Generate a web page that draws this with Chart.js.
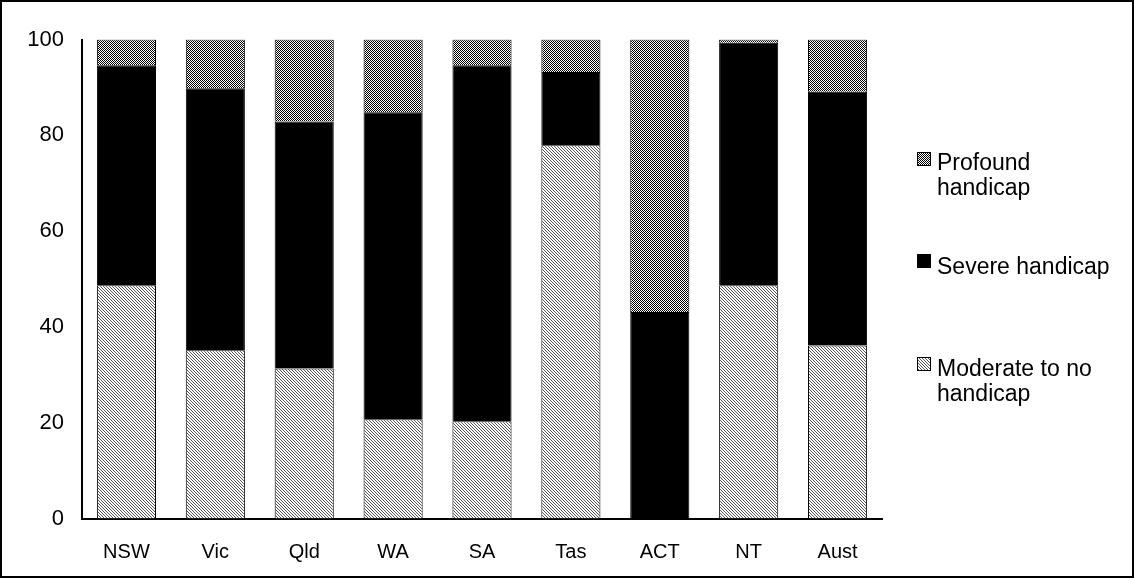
<!DOCTYPE html>
<html>
<head>
<meta charset="utf-8">
<title>Handicap level by state</title>
<script src="https://cdn.jsdelivr.net/npm/chart.js@4.4.1/dist/chart.umd.min.js"></script>
<style>
  html, body { margin: 0; padding: 0; background: #fff; }
  #wrap { width: 1134px; height: 578px; position: relative; }
</style>
</head>
<body>
<div id="wrap"><canvas id="chart" width="1134" height="578"></canvas></div>
<script>
// Categories and stacked percentages (each column sums to 100)
const categories = ['NSW', 'Vic', 'Qld', 'WA', 'SA', 'Tas', 'ACT', 'NT', 'Aust'];
const moderate = [48.7, 35.1, 31.3, 20.7, 20.3, 77.9, 0, 48.7, 36.1];
const severe   = [45.9, 54.7, 51.6, 64.1, 74.3, 15.3, 43.1, 50.6, 53.0];
const profound = [5.4, 10.2, 17.1, 15.2, 5.4, 6.8, 56.9, 0.7, 10.9];
const yTicks = [0, 20, 40, 60, 80, 100];

const legendLines = {
  profound: ['Profound', 'handicap'],
  severe: ['Severe handicap'],
  moderate: ['Moderate to no', 'handicap']
};

// Fill patterns: fine checker for profound, thin diagonals for moderate
function makePattern(size, drawFn) {
  const c = document.createElement('canvas');
  c.width = size; c.height = size;
  const g = c.getContext('2d');
  g.fillStyle = '#fff';
  g.fillRect(0, 0, size, size);
  drawFn(g);
  return g.createPattern(c, 'repeat');
}
const ctxMain = document.getElementById('chart').getContext('2d');
const checker = makePattern(2, g => {
  g.fillStyle = '#000';
  g.fillRect(0, 0, 1, 1);
  g.fillRect(1, 1, 1, 1);
});
const diagonal = makePattern(3, g => {
  g.fillStyle = '#555';
  for (let i = 0; i < 3; i++) g.fillRect(i, i, 1, 1);
});

const fontFamily = 'Arial, "Liberation Sans", sans-serif';

// White page, outer frame and the wrapped legend on the right
const framePlugin = {
  id: 'frame',
  beforeDraw(chart) {
    const c = chart.ctx;
    c.save();
    c.fillStyle = '#fff';
    c.fillRect(0, 0, chart.width, chart.height);
    c.restore();
  },
  afterDraw(chart) {
    const c = chart.ctx;
    c.save();
    c.strokeStyle = '#000';
    c.lineWidth = 2;
    c.strokeRect(1, 1, chart.width - 2, chart.height - 2);

    const ds = chart.data.datasets;
    const entries = [
      { fill: ds[2].backgroundColor, lines: legendLines.profound, box: 152, base: 170 },
      { fill: ds[1].backgroundColor, lines: legendLines.severe, box: 254, base: 274 },
      { fill: ds[0].backgroundColor, lines: legendLines.moderate, box: 357, base: 376 }
    ];
    c.font = '23px ' + fontFamily;
    c.textBaseline = 'alphabetic';
    c.textAlign = 'left';
    entries.forEach(e => {
      c.fillStyle = e.fill;
      c.fillRect(917, e.box, 14, 14);
      c.lineWidth = 1;
      c.strokeStyle = '#000';
      c.strokeRect(917.5, e.box + 0.5, 13, 13);
      c.fillStyle = '#000';
      e.lines.forEach((t, i) => c.fillText(t, 937, e.base + i * 24.5));
    });
    c.restore();
  }
};

new Chart(ctxMain, {
  type: 'bar',
  data: {
    labels: categories,
    datasets: [
      { label: 'Moderate to no handicap', data: moderate, backgroundColor: diagonal, borderColor: '#000', borderWidth: 1 },
      { label: 'Severe handicap', data: severe, backgroundColor: '#000', borderColor: '#000', borderWidth: 1 },
      { label: 'Profound handicap', data: profound, backgroundColor: checker, borderColor: '#000', borderWidth: 1 }
    ]
  },
  options: {
    responsive: false,
    animation: false,
    devicePixelRatio: 1,
    layout: { padding: { left: 0, top: 39.5, right: 252, bottom: 0 } },
    datasets: { bar: { categoryPercentage: 1, barPercentage: 0.665 } },
    plugins: { legend: { display: false }, tooltip: { enabled: false } },
    scales: {
      x: {
        stacked: true,
        grid: { display: false, drawTicks: false },
        border: { display: true, color: '#000', width: 2 },
        ticks: { color: '#000', padding: 22, font: { family: fontFamily, size: 20 }, maxRotation: 0 },
        afterFit(s) { s.height = 59.5; }
      },
      y: {
        stacked: true,
        min: 0,
        max: 100,
        grid: { display: false, drawTicks: false },
        border: { display: true, color: '#000', width: 2 },
        afterBuildTicks(s) { s.ticks = yTicks.map(v => ({ value: v })); },
        ticks: { color: '#000', padding: 18, font: { family: fontFamily, size: 22 } },
        afterFit(s) { s.width = 82; }
      }
    }
  },
  plugins: [framePlugin]
});
</script>
</body>
</html>
